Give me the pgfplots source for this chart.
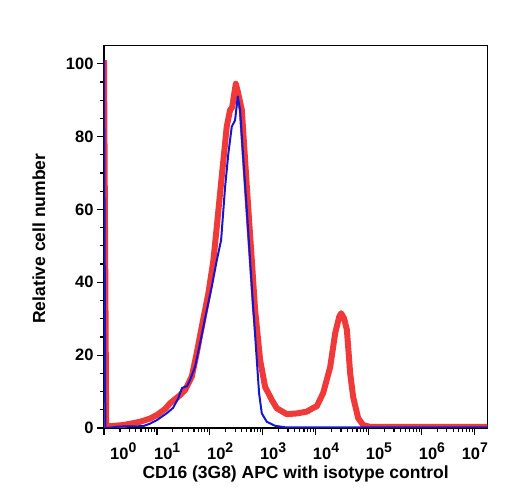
\documentclass[border=0pt]{standalone}
\usepackage{fontspec}
\setmainfont{Liberation Sans}
\usepackage{pgfplots}
\pgfplotsset{compat=1.18}
\definecolor{myred}{RGB}{240,58,58}
\definecolor{myblue}{RGB}{22,22,205}
\newcommand{\dec}[1]{10\raisebox{0.42em}{\fontsize{14}{14}\selectfont #1}}
\begin{document}
\begin{tikzpicture}
\path[use as bounding box] (-104pt,-72pt) rectangle (404pt,428pt);
\begin{axis}[
  at={(0pt,0pt)}, anchor=south west,
  scale only axis, width=383.3pt, height=382.5pt,
  xmode=log, xmin=1, xmax=1.74e7,
  ymin=0, ymax=105,
  axis line style={line width=1.4pt},
  tick style={line width=1.2pt, black},
  major tick length=7pt, minor tick length=4pt,
  tick align=outside,
  xtick pos=bottom, ytick pos=left,
  xtick={1,10,100,1000,10000,100000,1000000,10000000},
  xticklabels={\hspace*{9pt}\dec{0},\dec{1},\dec{2},\dec{3},\dec{4},\dec{5},\dec{6},\hspace*{-10pt}\dec{7}},
  xticklabel style={anchor=north west, inner xsep=0pt, xshift=-3pt, yshift=-4pt, font=\fontsize{16.5}{19}\selectfont\bfseries},
  ytick={0,20,40,60,80,100},
  yticklabels={0,20,40,60,80,100},
  minor y tick num=3,
  yticklabel style={font=\fontsize{16.5}{19}\selectfont\bfseries},
  every axis x label/.style={at={(axis description cs:0.5,-0.120)},anchor=center},
  every axis y label/.style={at={(axis description cs:-0.1696,0.495)},anchor=center,rotate=90},
  xlabel={CD16 (3G8) APC with isotype control},
  ylabel={Relative cell number},
  label style={font=\fontsize{17.5}{20}\selectfont\bfseries},
  clip=true,
]
\addplot[myred, line width=6pt, line join=round] coordinates {
(1,101) (1.10,0.5) (1.30,0.5) (2.29,0.8) (4.79,1.7) (7.41,2.6) (10.04,3.6)
(14.2,5.2) (17.7,6.8) (27.3,9) (34.0,10.4) (45.5,14.1) (56.5,20.6) (70.3,27.8)
(93.7,37) (116.5,46) (135,55.2) (156,64.5) (180,73.5) (208,82.7) (241,87.3)
(263,88) (309,94.5) (341,92) (401,87.3) (463,73.5) (534,59.8) (620,46)
(715,32.4) (889,18.7) (1104,11.3) (1479,7.7) (1840,5.4) (2843,3.8) (4395,4)
(6792,4.5) (8933,5.5) (10490,6) (13800,9.6) (18720,16.7) (23270,26) (27700,30.5)
(30200,31.5) (34400,30) (38700,27) (44700,15) (50900,8.5) (63300,2.7)
(78800,0.8) (106700,0.3) (1.74e7,0.3)
};
\addplot[myblue, line width=2pt, line join=round] coordinates {
(1,101) (1.06,0.1) (1.14,0) (2.0,0.4) (5.46,0.5) (7.41,1.2) (10.04,2.2)
(15.5,4.1) (20.1,5.5) (25.0,8) (29.8,11) (37.1,11.5) (42.2,13.2) (52.5,16.8)
(65.3,23.3) (87.4,32.4) (108.6,38.8) (135,46) (163,51.6) (194,66.2) (224,75.5)
(259,82.7) (299,84.5) (337,91) (372,87.3) (430,73.5) (499,59.8) (575,46)
(664,32.4) (770,18.7) (851,9.5) (957,4) (1191,1.7) (1710,0.6) (2630,0.2)
(1.74e7,0.2)
};
\end{axis}
\end{tikzpicture}
\end{document}
